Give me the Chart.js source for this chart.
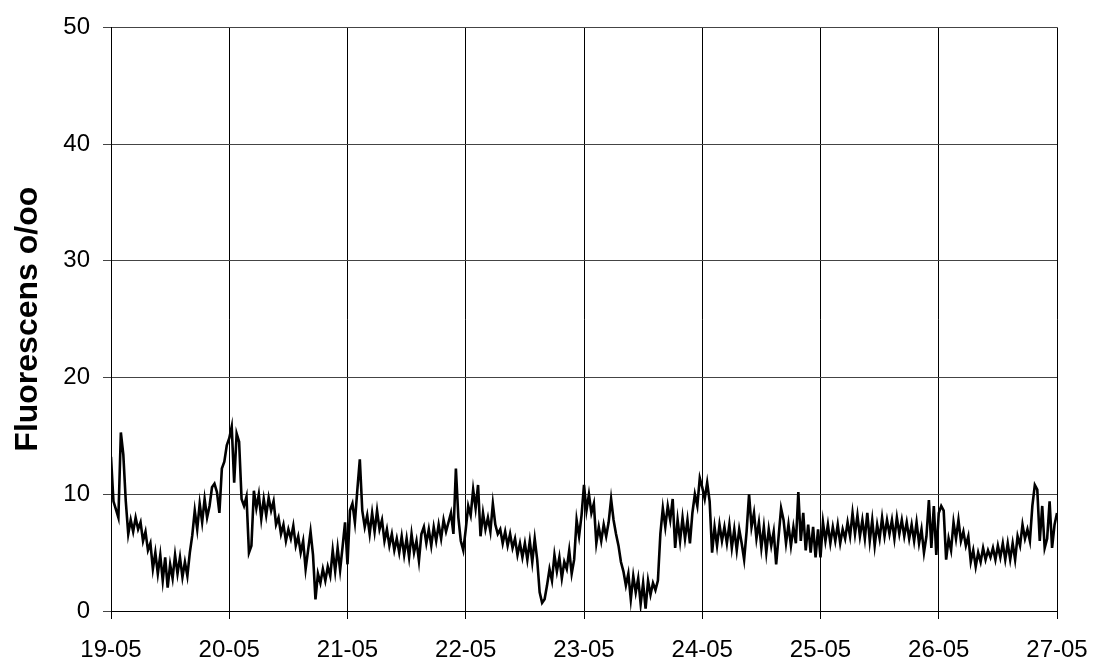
<!DOCTYPE html>
<html>
<head>
<meta charset="utf-8">
<script src="https://cdn.jsdelivr.net/npm/chart.js@4/dist/chart.umd.min.js"></script>
<style>
  html, body { margin: 0; padding: 0; background: #fff; }
  #wrap { width: 1100px; height: 661px; }
</style>
</head>
<body>
<div id="wrap"><canvas id="c" width="1100" height="661"></canvas></div>
<script>
// Day labels on the time axis (one tick per day)
const dayLabels = ['19-05', '20-05', '21-05', '22-05', '23-05', '24-05', '25-05', '26-05', '27-05'];
const yTicks = [0, 10, 20, 30, 40, 50];

// Fluorescence readings (o/oo), one value every half hour, per day
const hoursPerSample = 0.5;
const may19 = [13.2, 9.4, 8.7, 8.0, 15.3, 13.4, 9.4, 6.6, 7.8, 6.8, 8.0, 7.0, 7.6, 6.0, 6.8, 5.2,
               5.8, 3.6, 5.0, 3.2, 4.8, 2.6, 4.6, 2.0, 4.0, 2.8, 4.8, 3.2, 4.6, 2.9, 4.2, 3.0,
               5.0, 6.5, 8.6, 7.0, 9.2, 7.6, 9.6, 8.0, 9.0, 10.6, 10.9, 10.2, 8.4, 12.2, 12.8, 14.2];
const may20 = [14.8, 15.8, 11.0, 15.2, 14.5, 9.6, 9.0, 9.8, 5.0, 5.6, 10.3, 8.8, 10.0, 7.9, 9.6, 8.2,
               9.7, 8.6, 9.4, 7.4, 8.0, 6.6, 7.4, 6.0, 7.0, 6.2, 7.3, 5.6, 6.4, 5.0, 6.0, 3.6,
               5.2, 6.8, 4.8, 1.0, 3.2, 2.4, 3.6, 2.6, 3.8, 3.0, 5.2, 3.4, 5.4, 3.5, 5.5, 7.6];
const may21 = [4.0, 8.6, 9.2, 7.6, 10.4, 13.0, 8.6, 7.2, 8.2, 6.6, 8.4, 6.8, 8.6, 7.0, 7.8, 6.0,
               7.0, 5.6, 6.6, 5.2, 6.2, 5.0, 6.4, 4.8, 6.2, 4.6, 6.6, 5.0, 6.0, 4.3, 6.6, 7.2,
               5.8, 7.0, 5.6, 7.2, 6.0, 7.4, 6.2, 7.8, 6.8, 7.6, 8.4, 6.6, 12.2, 8.0, 6.0, 5.2];
const may22 = [7.0, 9.0, 8.2, 10.4, 8.8, 10.8, 6.4, 8.4, 7.0, 8.0, 6.8, 9.2, 7.4, 6.6, 7.0, 5.8,
               6.8, 5.6, 6.6, 5.4, 6.2, 4.8, 5.8, 4.6, 5.8, 4.4, 6.0, 4.2, 6.2, 4.4, 1.6, 0.7,
               1.0, 2.2, 3.6, 2.6, 4.8, 3.4, 4.6, 2.8, 4.2, 3.6, 5.2, 3.2, 4.4, 7.8, 6.4, 8.2];
const may23 = [10.8, 8.6, 10.0, 8.4, 9.2, 5.8, 7.2, 6.0, 7.4, 6.4, 7.6, 9.6, 7.8, 6.6, 5.6, 4.2,
               3.4, 2.2, 3.2, 1.0, 3.0, 1.6, 2.8, 0.6, 2.4, 0.2, 2.6, 1.4, 2.4, 1.8, 2.6, 6.6,
               8.8, 7.2, 9.0, 7.8, 9.6, 5.4, 7.8, 6.0, 8.0, 6.2, 7.8, 5.8, 8.4, 10.0, 9.0, 11.4];
const may24 = [10.6, 9.6, 11.0, 9.4, 5.0, 7.2, 5.6, 7.4, 6.0, 7.2, 5.8, 7.4, 5.4, 7.0, 5.2, 7.0,
               5.8, 4.4, 6.8, 10.0, 7.2, 8.4, 6.2, 7.6, 5.4, 7.2, 5.0, 7.0, 5.6, 6.8, 4.0, 6.4,
               8.8, 7.8, 5.8, 7.4, 5.6, 7.2, 5.8, 10.2, 6.0, 8.4, 5.2, 7.4, 5.0, 7.2, 4.6, 7.0];
const may25 = [4.6, 7.6, 6.0, 7.4, 5.8, 7.2, 6.0, 7.4, 5.8, 7.0, 6.2, 7.6, 6.4, 8.4, 6.6, 8.2,
               6.4, 7.8, 6.2, 8.4, 6.0, 7.8, 5.6, 7.4, 6.2, 8.0, 6.4, 7.8, 6.6, 7.8, 6.2, 8.0,
               6.6, 7.8, 6.4, 7.6, 6.2, 7.4, 6.0, 7.6, 5.8, 7.0, 5.0, 6.4, 9.5, 5.4, 9.0, 4.8];
const may26 = [8.4, 9.0, 8.6, 4.4, 6.2, 5.2, 7.6, 6.2, 7.8, 6.0, 6.8, 5.6, 6.4, 4.2, 5.2, 3.8,
               5.0, 4.2, 5.4, 4.4, 5.2, 4.6, 5.4, 4.4, 5.6, 4.6, 5.8, 4.4, 5.8, 4.4, 5.8, 4.4,
               6.4, 5.6, 7.4, 6.2, 7.0, 6.0, 9.0, 10.8, 10.4, 6.0, 9.0, 5.4, 6.2, 9.4, 5.4, 7.4, 8.4];

const readings = [].concat(may19, may20, may21, may22, may23, may24, may25, may26);
const points = readings.map((v, i) => ({ x: i * hoursPerSample, y: v }));

const FONT = "'Liberation Sans', Arial, sans-serif";

new Chart(document.getElementById('c'), {
  type: 'line',
  data: {
    datasets: [{
      data: points,
      borderColor: '#000',
      borderWidth: 2.6,
      borderJoinStyle: 'miter',
      pointRadius: 0,
      tension: 0,
      fill: false
    }]
  },
  options: {
    responsive: false,
    animation: false,
    events: [],
    layout: { padding: { left: 0, right: 43, top: 27, bottom: 0 } },
    plugins: { legend: { display: false }, tooltip: { enabled: false } },
    scales: {
      x: {
        type: 'linear',
        min: 0,
        max: (dayLabels.length - 1) * 24,
        afterFit(s) { s.height = 50; s.paddingLeft = 0; s.paddingRight = 0; },
        afterBuildTicks(s) { s.ticks = dayLabels.map((_, i) => ({ value: i * 24 })); },
        ticks: {
          callback: (v) => dayLabels[Math.round(v / 24)],
          color: '#000',
          font: { family: FONT, size: 24 },
          padding: 17,
          maxRotation: 0,
          autoSkip: false
        },
        grid: { color: '#000', lineWidth: 1, tickLength: 8 },
        border: { color: '#000', width: 1 }
      },
      y: {
        min: 0,
        max: 50,
        afterFit(s) { s.width = 111; },
        afterBuildTicks(s) { s.ticks = yTicks.map(v => ({ value: v })); },
        ticks: {
          color: '#000',
          font: { family: FONT, size: 24 },
          padding: 13
        },
        grid: { color: '#444', lineWidth: 1, tickLength: 8 },
        border: { color: '#000', width: 1 },
        title: {
          display: true,
          text: 'Fluorescens o/oo',
          color: '#000',
          font: { family: FONT, size: 32, weight: 'bold' },
          padding: { top: 9, bottom: 0 }
        }
      }
    }
  }
});
</script>
</body>
</html>
